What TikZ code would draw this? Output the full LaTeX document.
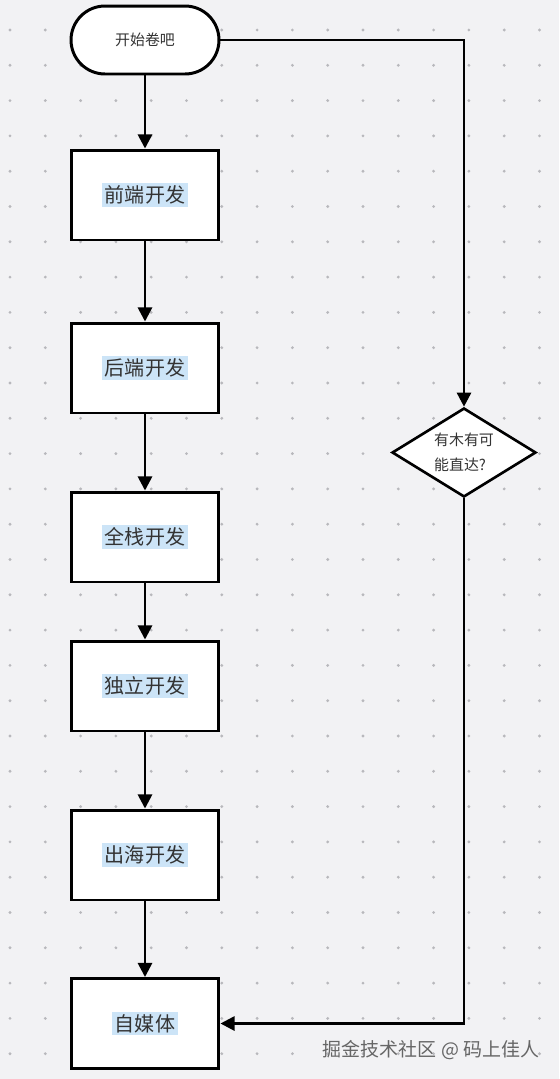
\documentclass[tikz,border=0pt]{standalone}
\usepackage{fontspec}
\setmainfont{Noto Sans CJK SC}
\usetikzlibrary{shapes.geometric,arrows.meta}
\definecolor{bggray}{HTML}{F2F2F4}
\definecolor{dotgray}{HTML}{B8B8BC}
\definecolor{txtgray}{HTML}{333333}
\definecolor{hlblue}{HTML}{CCE4F7}
\newcommand{\marktext}[1]{{\setlength{\fboxsep}{1.5pt}\colorbox{hlblue}{#1}}}
\begin{document}
\begin{tikzpicture}[x=0.02cm, y=-0.02cm, >={Triangle[length=8pt,width=8pt]},
    box/.style={draw, line width=1.7pt, fill=white, minimum width=2.96cm, minimum height=1.8cm,
        text=txtgray, font=\fontsize{11.4}{13}\selectfont},
    flow/.style={->, line width=1.5pt}]
    % background and dot grid
    \fill[bggray] (0,0) rectangle (559,1079);
    \useasboundingbox (0,0) rectangle (559,1079);
    \foreach \i in {0,...,15}
        \foreach \j in {0,...,29}
            \fill[dotgray] (10+35.3*\i, 30+35.3*\j) circle (0.9pt);
    % nodes
    \node[draw, line width=1.7pt, fill=white, rounded corners=0.68cm, minimum width=2.96cm,
        minimum height=1.36cm, text=txtgray, font=\fontsize{8.5}{10}\selectfont] (start) at (145,40) {开始卷吧};
    \node[box] (front) at (145,195) {\marktext{前端开发}};
    \node[box] (back) at (145,368) {\marktext{后端开发}};
    \node[box] (full) at (145,537) {\marktext{全栈开发}};
    \node[box] (indie) at (145,686) {\marktext{独立开发}};
    \node[box] (overseas) at (145,855) {\marktext{出海开发}};
    \node[box] (media) at (145,1023.5) {\marktext{自媒体}};
    \node[draw, diamond, line width=1.5pt, fill=white, shape aspect=1.62, minimum width=2.88cm,
        minimum height=1.78cm, inner sep=0pt] (direct) at (464,452.5) {};
    \node[text=txtgray, align=left, font=\fontsize{8.5}{14}\selectfont] (directtext) at (direct) {有木有可\\能直达?};
    % connectors
    \draw[flow] (start) -- (front);
    \draw[flow] (front) -- (back);
    \draw[flow] (back) -- (full);
    \draw[flow] (full) -- (indie);
    \draw[flow] (indie) -- (overseas);
    \draw[flow] (overseas) -- (media);
    \draw[flow] (start.east) -| (direct.north);
    \draw[flow] (direct.south) |- (media.east);
    % watermark
    \node[text=black!60, font=\fontsize{10.8}{12}\selectfont] (mark) at (431,1050) {掘金技术社区 @ 码上佳人};
\end{tikzpicture}
\end{document}
